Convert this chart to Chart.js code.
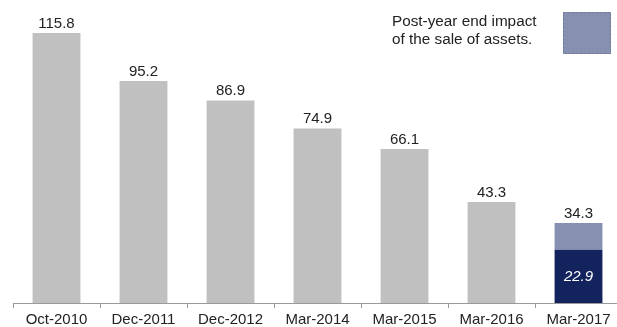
<!DOCTYPE html>
<html>
<head>
<meta charset="utf-8">
<script src="https://cdn.jsdelivr.net/npm/chart.js@4/dist/chart.umd.min.js"></script>
<style>
  html, body { margin: 0; padding: 0; background: #fff; overflow: hidden; }
  #wrap { position: relative; width: 623px; height: 327px; }
</style>
</head>
<body>
<div id="wrap"><canvas id="chart"></canvas></div>
<script>
// Period-end values
const periods = ['Oct-2010', 'Dec-2011', 'Dec-2012', 'Mar-2014', 'Mar-2015', 'Mar-2016', 'Mar-2017'];
const totals = [115.8, 95.2, 86.9, 74.9, 66.1, 43.3, 34.3];
// Value after the post-year end sale of assets (only the latest period)
const afterSale = [null, null, null, null, null, null, 22.9];
const noteLines = ['Post-year end impact', 'of the sale of assets.'];

const GREY = '#c0c0c0';
const NAVY = '#13235e';
const IMPACT = '#8790b0';
const FONT = '"Liberation Sans", Arial, sans-serif';

// Lower segment: the full value for past periods, the after-sale value for the latest one
const baseValues = totals.map((t, i) => afterSale[i] != null ? afterSale[i] : t);
// Upper segment: the part removed by the sale of assets
const impactValues = totals.map((t, i) => afterSale[i] != null ? +(t - afterSale[i]).toFixed(1) : null);
const baseColors = totals.map((t, i) => afterSale[i] != null ? NAVY : GREY);

const labelPlugin = {
  id: 'valueLabels',
  afterDatasetsDraw(chart) {
    const ctx = chart.ctx;
    const x = chart.scales.x, y = chart.scales.y;
    ctx.save();
    ctx.font = '15px ' + FONT;
    ctx.textAlign = 'center';
    ctx.textBaseline = 'alphabetic';
    ctx.fillStyle = '#222';
    totals.forEach((v, i) => {
      ctx.fillText(v.toFixed(1), x.getPixelForValue(i), y.getPixelForValue(v) - 5);
    });
    // after-sale value inside the dark segment
    ctx.font = 'italic 15px ' + FONT;
    ctx.fillStyle = '#ffffff';
    ctx.textBaseline = 'middle';
    afterSale.forEach((v, i) => {
      if (v == null) return;
      const mid = (y.getPixelForValue(v) + y.getPixelForValue(0)) / 2;
      ctx.fillText(v.toFixed(1), x.getPixelForValue(i), mid + 1);
    });
    ctx.restore();
  }
};

// Note box explaining the upper segment
const notePlugin = {
  id: 'impactNote',
  afterDraw(chart) {
    const ctx = chart.ctx;
    ctx.save();
    ctx.font = '15.3px ' + FONT;
    ctx.fillStyle = '#222';
    ctx.textAlign = 'left';
    ctx.textBaseline = 'middle';
    ctx.fillText(noteLines[0], 392, 22);
    ctx.fillText(noteLines[1], 392, 40);
    ctx.fillStyle = chart.data.datasets[1].backgroundColor;
    ctx.fillRect(563, 12, 48, 42);
    ctx.strokeStyle = '#6d7594';
    ctx.setLineDash([2, 2]);
    ctx.lineWidth = 1;
    ctx.strokeRect(563.5, 12.5, 47, 41);
    ctx.restore();
  }
};

new Chart(document.getElementById('chart'), {
  type: 'bar',
  data: {
    labels: periods,
    datasets: [
      { data: baseValues, backgroundColor: baseColors, stack: 's' },
      { data: impactValues, backgroundColor: IMPACT, stack: 's' }
    ]
  },
  options: {
    responsive: true,
    maintainAspectRatio: false,
    animation: false,
    layout: { padding: { left: 13, right: 1, top: 0, bottom: 0 } },
    datasets: { bar: { categoryPercentage: 1, barPercentage: 0.55 } },
    plugins: { legend: { display: false }, tooltip: { enabled: false } },
    scales: {
      x: {
        stacked: true,
        afterFit(scale) { scale.height = 24; },
        grid: { display: true, drawOnChartArea: false, drawTicks: true, tickLength: 5, color: '#9a9a9a', offset: true },
        border: { display: true, color: '#9a9a9a' },
        ticks: { color: '#222', font: { family: FONT, size: 15 }, padding: 3, maxRotation: 0, autoSkip: false }
      },
      y: {
        stacked: true,
        display: false,
        min: 0,
        max: 130
      }
    }
  },
  plugins: [labelPlugin, notePlugin]
});
</script>
</body>
</html>
